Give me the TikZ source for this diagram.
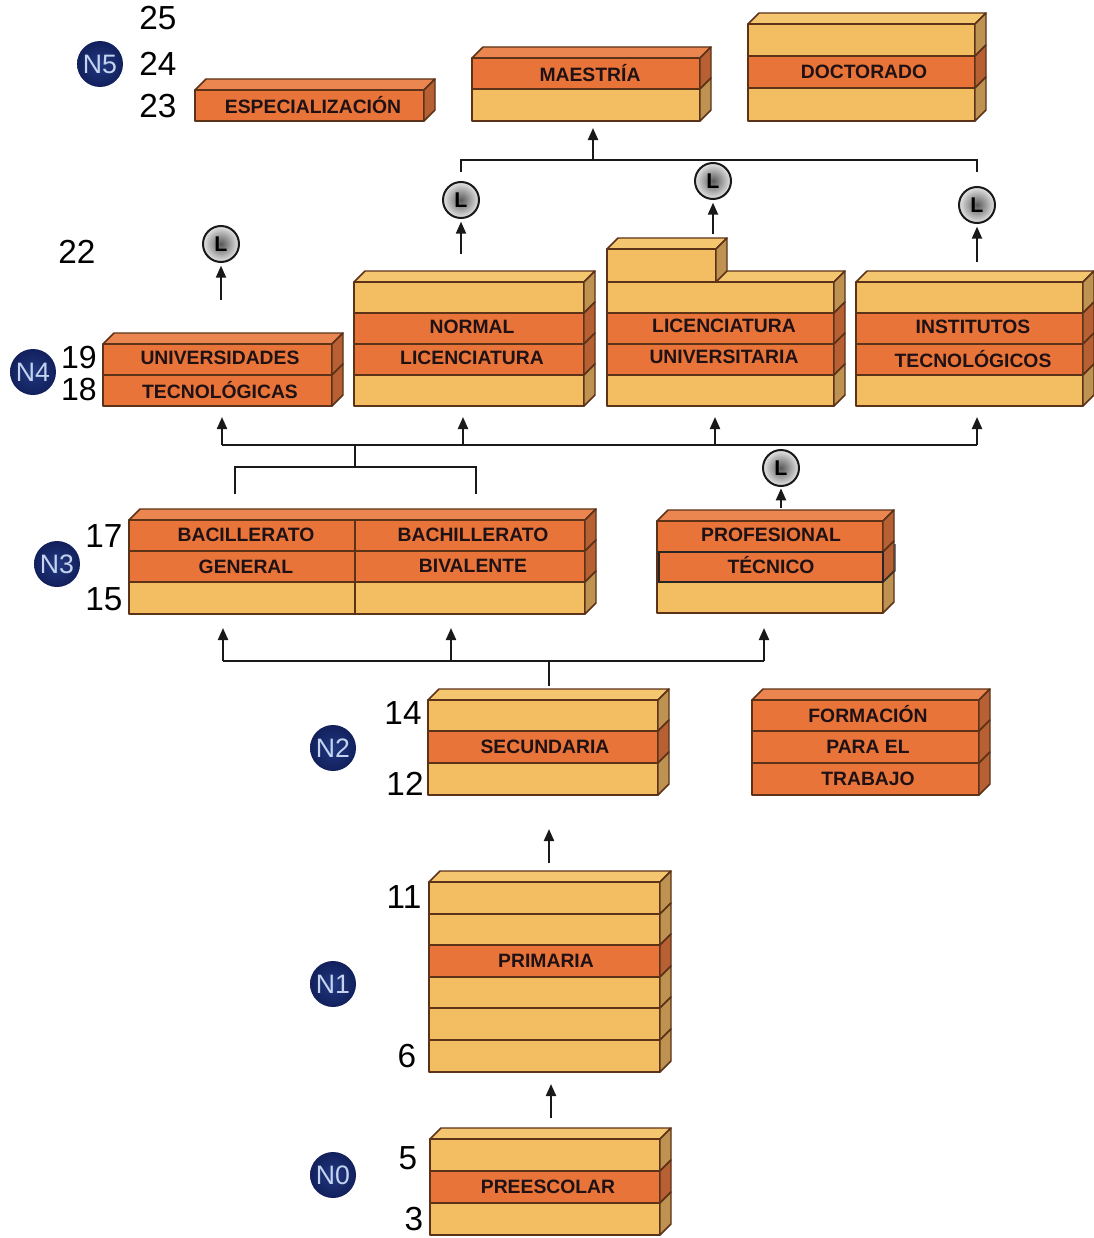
\documentclass[tikz,border=0pt]{standalone}
\usepackage{fontspec}
\setmainfont{Liberation Sans}
\usetikzlibrary{arrows.meta}

\definecolor{frontY}{RGB}{243,190,98}
\definecolor{sideY}{RGB}{190,146,80}
\definecolor{lidY}{RGB}{245,198,112}
\definecolor{frontO}{RGB}{232,116,58}
\definecolor{sideO}{RGB}{182,96,52}
\definecolor{lidO}{RGB}{236,134,80}
\definecolor{brickline}{RGB}{92,50,24}
\definecolor{inkdark}{RGB}{32,18,20}
\definecolor{navyin}{RGB}{34,56,128}
\definecolor{navyout}{RGB}{18,32,92}
\definecolor{navytext}{RGB}{196,212,240}

\tikzset{every picture/.style={line width=0.75pt},
  edge/.style={draw=brickline,line width=1.1pt,line join=round},
  flow/.style={line width=1.6pt,color=black!90,-{Triangle[length=9pt,width=7.5pt]}},
  wire/.style={line width=1.4pt,color=black!90},
  brick/.style={font=\fontsize{14.5}{15}\selectfont\bfseries,color=inkdark,inner sep=0pt},
  age/.style={font=\fontsize{25}{25}\selectfont,color=black,inner sep=0pt},
  agetight/.style={font=\fontsize{24}{24}\selectfont,color=black,inner sep=0pt},
  level/.style={circle,minimum size=34.5pt,inner sep=0pt,inner color=navyin,outer color=navyout,
    font=\fontsize{20}{20}\selectfont,text=navytext},
  lic/.style={circle,draw=black!90,line width=1.5pt,minimum size=27pt,inner sep=0pt,inner color=black!65,outer color=black!10,
    font=\fontsize{16}{16}\selectfont\bfseries,text=black}}

% x0, x1, y of the lid edge, kind of lid, list y0/y1/kind
\newcommand{\stack}[5]{%
  \draw[edge,fill=lid#4] (#1,#3) -- (#1+11,#3-11) -- (#2+11,#3-11) -- (#2,#3) -- cycle;
  \foreach \ya/\yb/\kind in {#5} {
    \draw[edge,fill=front\kind] (#1,\ya) rectangle (#2,\yb);
    \draw[edge,fill=side\kind] (#2,\ya) -- (#2+11,\ya-11) -- (#2+11,\yb-11) -- (#2,\yb) -- cycle;
  }
}

\begin{document}
\begin{tikzpicture}[x=0.75pt,y=0.75pt,yscale=-1,xscale=1]
\useasboundingbox (0,0) rectangle (1094,1238);

% top row
\stack{195}{424}{90}{O}{90/121/O}
\stack{472}{700}{58}{O}{58/89/O,89/121/Y}
\stack{748}{975}{24}{Y}{24/56/Y,56/88/O,88/121/Y}
% licenciaturas
\stack{103}{332}{344}{O}{344/375/O,375/406/O}
\stack{354}{584}{282}{Y}{282/313/Y,313/344/O,344/375/O,375/406/Y}
\stack{607}{834}{282}{Y}{282/313/Y,313/344/O,344/375/O,375/406/Y}
\stack{607}{716}{249}{Y}{249/282/Y}
\stack{856}{1083}{282}{Y}{282/313/Y,313/344/O,344/375/O,375/406/Y}
% media superior
\stack{129}{585}{520}{O}{520/551/O,551/582/O,582/614/Y}
\draw[edge] (355,520) -- (355,614);
\stack{657}{883}{521}{O}{521/552/O,552/582/O,582/613/Y}
\draw[line width=1.2pt,color=black!85] (659,552) rectangle (883,582);
\draw[line width=0.8pt,color=black!80] (895,544) -- (895,571) -- (883,582);
% secundaria
\stack{428}{658}{700}{Y}{700/731/Y,731/763/O,763/795/Y}
\stack{752}{979}{700}{O}{700/731/O,731/763/O,763/795/O}
% primaria
\stack{429}{660}{882}{Y}{882/914/Y,914/945/Y,945/977/O,977/1008/Y,1008/1040/Y,1040/1072/Y}
% preescolar
\stack{430}{660}{1139}{Y}{1139/1171/Y,1171/1203/O,1203/1235/Y}

% Text Node
\node[brick] (espec) at (313,105) {ESPECIALIZACIÓN};
\node[brick] (maes) at (590,73) {MAESTRÍA};
\node[brick] (doct) at (864,72) {DOCTORADO};
\node[brick] (univA) at (220,358) {UNIVERSIDADES};
\node[brick] (univB) at (220,390) {TECNOLÓGICAS};
\node[brick] (normA) at (472,327) {NORMAL};
\node[brick] (normB) at (472,358) {LICENCIATURA};
\node[brick] (licA) at (724,326) {LICENCIATURA};
\node[brick] (licB) at (724,357) {UNIVERSITARIA};
\node[brick] (instA) at (973,327) {INSTITUTOS};
\node[brick] (instB) at (973,359) {TECNOLÓGICOS};
\node[brick] (bacA) at (246,535) {BACILLERATO};
\node[brick] (bacB) at (246,567) {GENERAL};
\node[brick] (bivA) at (473,535) {BACHILLERATO};
\node[brick] (bivB) at (473,566) {BIVALENTE};
\node[brick] (profA) at (771,535) {PROFESIONAL};
\node[brick] (profB) at (771,565) {TÉCNICO};
\node[brick] (secu) at (545,747) {SECUNDARIA};
\node[brick] (formA) at (868,714) {FORMACIÓN};
\node[brick] (formB) at (868,747) {PARA EL};
\node[brick] (formC) at (868,779) {TRABAJO};
\node[brick] (prim) at (546,961) {PRIMARIA};
\node[brick] (pree) at (548,1187) {PREESCOLAR};

% ages
\node[age] (a25) at (158,18) {25};
\node[age] (a24) at (158,64) {24};
\node[age] (a23) at (158,106) {23};
\node[age] (a22) at (77,252) {22};
\node[agetight] (a19) at (79,357) {19};
\node[agetight] (a18) at (79,389) {18};
\node[age] (a17) at (104,536) {17};
\node[age] (a15) at (104,599) {15};
\node[age] (a14) at (403,713) {14};
\node[age] (a12) at (405,784) {12};
\node[age] (a11) at (404,897) {11};
\node[age] (a6) at (407,1056) {6};
\node[age] (a5) at (408,1158) {5};
\node[age] (a3) at (414,1219) {3};

% levels
\node[level] (n5) at (100,64) {N5};
\node[level] (n4) at (33,372) {N4};
\node[level] (n3) at (57,564) {N3};
\node[level] (n2) at (333,748) {N2};
\node[level] (n1) at (333,984) {N1};
\node[level] (n0) at (333,1175) {N0};

% licence marks
\node[lic] (lUniv) at (221,244) {L};
\node[lic] (lNorm) at (461,200) {L};
\node[lic] (lLic) at (713,181) {L};
\node[lic] (lInst) at (977,205) {L};
\node[lic] (lProf) at (781,468) {L};

% free ends
\coordinate (upUniv) at (221,300);
\coordinate (upNorm) at (461,254);
\coordinate (upLic) at (713,234);
\coordinate (upInst) at (977,262);
\coordinate (upProf) at (781,508);
\coordinate (brL) at (461,172);
\coordinate (brC) at (593,160);
\coordinate (brR) at (977,172);
\coordinate (maesIn) at (593,128);
\coordinate (busW) at (222,445);
\coordinate (busA) at (463,445);
\coordinate (busB) at (715,445);
\coordinate (busE) at (977,445);
\coordinate (busIn) at (355,445);
\coordinate (bacOut) at (235,494);
\coordinate (bivOut) at (476,494);
\coordinate (midW) at (223,661);
\coordinate (midA) at (451,661);
\coordinate (midE) at (764,661);
\coordinate (secOut) at (549,686);

\draw[flow,shorten >=2pt] (upUniv) -- (lUniv);
\draw[flow,shorten >=2pt] (upNorm) -- (lNorm);
\draw[flow,shorten >=2pt] (upLic) -- (lLic);
\draw[flow,shorten >=2pt] (upInst) -- (lInst);
\draw[flow,shorten >=1pt] (upProf) -- (lProf);

\draw[wire] (brL) |- (brR |- brC) -- (brR);
\draw[flow] (brC) -- (maesIn);

\draw[wire] (busW) -- (busE);
\draw[flow] (busW) -- (222,417);
\draw[flow] (busA) -- (463,417);
\draw[flow] (busB) -- (715,417);
\draw[flow] (busE) -- (977,417);
\draw[wire] (busIn) -- (355,467);
\draw[wire] (bacOut) |- (bivOut |- 0,467) -- (bivOut);

\draw[wire] (midW) -- (midE);
\draw[flow] (midW) -- (223,628);
\draw[flow] (midA) -- (451,628);
\draw[flow] (midE) -- (764,628);
\draw[wire] (secOut) -- (549,661);

\coordinate (primOut) at (549,863);
\coordinate (secIn) at (549,829);
\coordinate (preOut) at (551,1118);
\coordinate (primIn) at (551,1084);
\draw[flow] (primOut) -- (secIn);
\draw[flow] (preOut) -- (primIn);

\end{tikzpicture}
\end{document}
